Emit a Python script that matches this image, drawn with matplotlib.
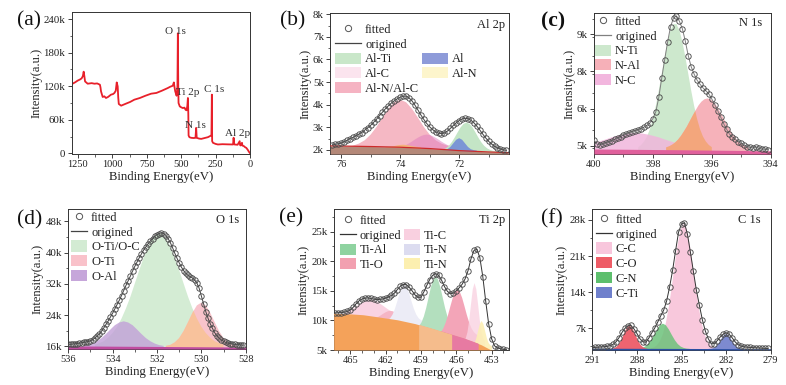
import numpy as np
import matplotlib.pyplot as plt
from matplotlib.lines import Line2D
from matplotlib.patches import Patch
from matplotlib.ticker import FuncFormatter, MultipleLocator

plt.rcParams['font.family'] = ['Liberation Serif', 'DejaVu Serif']
plt.rcParams['axes.linewidth'] = 0.7
plt.rcParams['axes.edgecolor'] = '#333333'

W, H = 786, 385

# ---------------- (a) survey spectrum (intensity in k counts) ----------------
survey_be = [1295, 1289, 1270, 1252, 1235, 1223, 1214, 1208, 1203, 1198, 1179, 1150, 1130, 1110,
             1090, 1086, 1082, 1070, 1058, 1046, 1030, 1010, 995, 985, 975, 968, 961, 957, 953,
             936, 900, 870, 840, 800, 760, 718, 680, 640, 597, 580, 561, 553, 548, 543, 533,
             527, 524, 521, 519, 510, 500, 488, 476, 468, 461, 455, 451, 448, 446, 440, 427,
             410, 396, 391, 387, 370, 354, 330, 306, 290, 283, 280, 277, 275, 269, 250, 233,
             200, 160, 123, 119, 115, 112, 90, 75, 72, 68, 58, 55, 44, 35, 27, 15, 8, 2, 0]
survey_int = [123, 124.5, 127, 130, 132, 134, 138, 146, 138, 128.6, 124.5, 125.5, 124.5, 125,
              122.7, 118, 110.8, 100.8, 102, 99, 101, 104.9, 106, 107.9, 112, 126.8, 119.7, 100, 88.3,
              85.3, 89, 92, 96, 99, 103, 106.7, 108, 112, 116.8, 119, 120.9, 126.8, 118, 110.8, 103,
              120, 214.5, 120, 90, 84, 82.4, 81, 81.8, 78, 77, 85, 99, 70, 32, 29, 27.9,
              27.5, 27.9, 45.6, 27.9, 26.5, 26, 27.5, 29, 31, 32, 33, 105, 22, 19, 17, 16,
              16.5, 16.2, 16, 28, 16.5, 16, 15.5, 21.9, 15, 14.2, 19, 14, 13, 11, 10, 6, 3, 1.2, 0.5]
survey_names = ['O 1s', 'Ti 2p', 'C 1s', 'N 1s', 'Al 2p']
survey_name_be = [542, 455, 258, 393, 91]
survey_name_int = [217, 108, 114, 50, 36]

# ---------------- (b) Al 2p ----------------
b_be = np.linspace(76.3, 70.4, 60)
b_fit = [2.22, 2.25, 2.27, 2.30, 2.36, 2.42, 2.50, 2.55, 2.62, 2.70,
         2.77, 2.88, 2.98, 3.09, 3.22, 3.36, 3.52, 3.67, 3.82, 3.95,
         4.07, 4.17, 4.26, 4.33, 4.37, 4.38, 4.30, 4.17, 3.98, 3.77,
         3.55, 3.35, 3.17, 3.02, 2.90, 2.80, 2.74, 2.72, 2.75, 2.83,
         2.95, 3.08, 3.20, 3.30, 3.37, 3.40, 3.38, 3.31, 3.20, 3.05,
         2.88, 2.70, 2.53, 2.38, 2.26, 2.16, 2.09, 2.04, 2.00, 1.98]
b_alnc_be = np.linspace(76.0, 72.2, 20)
b_alnc = [2.13, 2.15, 2.19, 2.28, 2.43, 2.68, 3.02, 3.43, 3.82, 4.11,
          4.22, 4.11, 3.82, 3.43, 3.02, 2.68, 2.43, 2.28, 2.19, 2.15]
b_alc_be = np.linspace(74.2, 72.0, 23)
b_alc = [2.08, 2.10, 2.13, 2.17, 2.22, 2.29, 2.37, 2.46, 2.54, 2.61, 2.66, 2.68,
         2.66, 2.61, 2.54, 2.46, 2.37, 2.29, 2.22, 2.17, 2.13, 2.10, 2.08]
b_al_be = np.linspace(72.6, 71.4, 13)
b_al = [1.97, 1.99, 2.03, 2.13, 2.29, 2.45, 2.52, 2.45, 2.29, 2.13, 2.03, 1.99, 1.97]
b_alti_be = np.linspace(72.75, 70.55, 23)
b_alti = [1.94, 1.96, 2.00, 2.07, 2.18, 2.34, 2.55, 2.78, 3.00, 3.15, 3.21, 3.15,
          3.00, 2.78, 2.55, 2.34, 2.18, 2.07, 2.00, 1.96, 1.94, 1.93, 1.92]
b_aln_be = np.linspace(74.5, 73.3, 13)
b_aln = [2.12, 2.13, 2.15, 2.17, 2.20, 2.22, 2.23, 2.22, 2.20, 2.17, 2.15, 2.13, 2.12]
b_bg_be = [76.37, 75.0, 74.0, 73.0, 72.0, 71.0, 70.32]
b_bg = [2.18, 2.15, 2.12, 2.06, 1.97, 1.91, 1.88]

# ---------------- (c) N 1s ----------------
c_be = np.linspace(400.0, 394.1, 60)
c_fit = [5.22, 5.05, 5.03, 5.05, 5.10, 5.13, 5.17, 5.24, 5.28, 5.33,
         5.40, 5.44, 5.48, 5.53, 5.56, 5.59, 5.64, 5.70, 5.76, 5.86,
         6.02, 6.28, 6.82, 7.55, 8.25, 8.92, 9.50, 9.82, 9.90, 9.70,
         9.42, 8.95, 8.40, 7.98, 7.70, 7.47, 7.32, 7.18, 7.07, 6.95,
         6.76, 6.55, 6.32, 6.08, 5.83, 5.62, 5.43, 5.32, 5.23, 5.15,
         5.08, 5.01, 4.96, 4.93, 4.91, 4.95, 4.89, 4.87, 4.86, 4.85]
c_nti_be = np.linspace(398.5, 396.0, 26)
c_nti = [4.94, 5.02, 5.15, 5.34, 5.62, 6.01, 6.50, 7.08, 7.72, 8.36, 8.93, 9.36, 9.59,
         9.59, 9.36, 8.93, 8.36, 7.72, 7.08, 6.50, 6.01, 5.62, 5.34, 5.15, 5.02, 4.94]
c_nal_be = np.linspace(397.55, 394.75, 29)
c_nal = [4.93, 4.97, 5.03, 5.11, 5.22, 5.36, 5.53, 5.71, 5.92, 6.13, 6.33, 6.52, 6.66, 6.75, 6.78,
         6.75, 6.66, 6.52, 6.33, 6.13, 5.92, 5.71, 5.53, 5.36, 5.22, 5.11, 5.03, 4.97, 4.93]
c_nc_be = np.linspace(400.0, 396.8, 17)
c_nc = [5.09, 5.16, 5.23, 5.31, 5.37, 5.42, 5.46, 5.47, 5.46, 5.42, 5.37, 5.31, 5.23, 5.16, 5.09, 5.03, 4.98]
c_bg_be = [400.0, 397.0, 394.0]
c_bg = [4.87, 4.84, 4.80]

# ---------------- (d) O 1s ----------------
d_be = np.linspace(536.0, 528.1, 80)
d_fit = [16.5, 16.5, 16.6, 16.6, 16.7, 16.8, 16.9, 17.0, 17.1, 17.2,
         17.4, 17.7, 18.1, 18.6, 19.2, 19.9, 20.7, 21.6, 22.5, 23.5,
         24.5, 25.6, 26.7, 27.8, 29.0, 30.3, 31.6, 32.8, 34.0, 35.3,
         36.5, 37.6, 38.7, 39.7, 40.7, 41.5, 42.3, 43.0, 43.6, 44.2,
         44.6, 44.9, 45.1, 44.9, 44.4, 43.6, 42.6, 41.3, 39.9, 38.6,
         37.4, 36.3, 35.4, 34.7, 34.2, 33.8, 33.5, 33.0, 32.2, 30.9,
         28.9, 26.9, 24.9, 23.2, 21.8, 20.6, 19.5, 18.7, 18.1, 17.6,
         17.3, 17.0, 16.8, 16.7, 16.6, 16.5, 16.4, 16.4, 16.3, 16.3]
d_otioc_be = np.linspace(534.8, 529.0, 30)
d_otioc = [16.4, 16.8, 17.3, 18.2, 19.4, 21.0, 23.1, 25.7, 28.7, 32.1, 35.5, 38.8, 41.6, 43.7, 44.8,
           44.8, 43.7, 41.6, 38.8, 35.5, 32.1, 28.7, 25.7, 23.1, 21.0, 19.4, 18.2, 17.3, 16.8, 16.4]
d_oti_be = np.linspace(531.6, 528.4, 17)
d_oti = [16.1, 16.35, 17.0, 18.1, 19.9, 22.2, 24.6, 26.5, 27.2, 26.5, 24.6, 22.2, 19.9, 18.1, 17.0, 16.35, 16.1]
d_oal_be = np.linspace(535.3, 531.7, 19)
d_oal = [16.1, 16.3, 16.7, 17.3, 18.1, 19.15, 20.3, 21.4, 22.1, 22.4,
         22.1, 21.4, 20.3, 19.15, 18.1, 17.3, 16.7, 16.3, 16.1]
d_bg_be = [536.0, 532.0, 528.0]
d_bg = [16.1, 15.95, 15.8]

# ---------------- (e) Ti 2p ----------------
e_be = np.linspace(466.25, 451.75, 59)
e_fit = [11.25, 11.3, 11.3, 11.4, 11.5, 11.75, 12.2, 12.8, 13.3, 13.6,
         13.75, 13.8, 13.7, 13.6, 13.5, 13.55, 13.6, 13.75, 13.95, 14.2,
         14.6, 15.2, 15.75, 16.05, 16.05, 15.6, 15.0, 14.3, 13.9, 13.9,
         14.8, 15.9, 16.9, 17.6, 17.9, 17.6, 16.8, 15.7, 14.9, 14.5,
         14.6, 15.0, 15.5, 16.1, 17.0, 18.4, 20.4, 21.8, 22.0, 20.6,
         17.4, 13.2, 9.4, 6.9, 5.7, 5.35, 5.2, 5.1, 5.05]
e_tic1_be = np.linspace(466.0, 460.6, 19)
e_tic1 = [10.94, 11.05, 11.24, 11.52, 11.87, 12.30, 12.74, 13.13, 13.40, 13.5,
          13.40, 13.13, 12.74, 12.30, 11.87, 11.52, 11.24, 11.05, 10.94]
e_tic2_be = np.linspace(455.35, 453.55, 13)
e_tic2 = [6.49, 6.93, 8.0, 9.99, 12.72, 15.25, 16.3, 15.25, 12.72, 9.99, 8.0, 6.93, 6.49]
e_tin1_be = np.linspace(462.0, 458.8, 17)
e_tin1 = [9.89, 10.05, 10.38, 11.0, 11.97, 13.23, 14.57, 15.60, 16.0,
          15.60, 14.57, 13.23, 11.97, 11.0, 10.38, 10.05, 9.89]
e_tin2_be = np.linspace(454.75, 452.95, 13)
e_tin2 = [5.64, 5.78, 6.16, 6.97, 8.18, 9.38, 9.9, 9.38, 8.18, 6.97, 6.16, 5.78, 5.64]
e_tial_be = np.linspace(459.15, 456.35, 15)
e_tial = [9.06, 9.66, 10.66, 12.1, 13.85, 15.6, 16.91, 17.4, 16.91, 15.6, 13.85, 12.1, 10.66, 9.66, 9.06]
e_tio1_be = np.linspace(457.7, 454.1, 19)
e_tio1 = [7.45, 7.64, 8.01, 8.64, 9.61, 10.89, 12.37, 13.79, 14.82, 15.2,
          14.82, 13.79, 12.37, 10.89, 9.61, 8.64, 8.01, 7.64, 7.45]
e_tio2_be = np.linspace(463.0, 460.2, 15)
e_tio2 = [10.28, 10.42, 10.61, 10.85, 11.12, 11.36, 11.54, 11.6, 11.54, 11.36, 11.12, 10.85, 10.61, 10.42, 10.28]
e_bg_be = [466.4, 465.0, 463.9, 462.5, 461.0, 459.5, 458.2, 456.8, 455.4, 454.5, 453.9, 453.1, 452.5, 451.5]
e_bg = [11.2, 11.1, 10.95, 10.55, 10.1, 9.45, 8.7, 7.85, 7.0, 6.35, 5.9, 5.06, 5.0, 5.0]

# ---------------- (f) C 1s ----------------
f_be = np.linspace(291.0, 279.2, 60)
f_fit = [3.25, 3.3, 3.35, 3.4, 3.43, 3.5, 3.65, 3.9, 4.4, 5.2,
         6.2, 7.0, 7.5, 7.55, 6.9, 6.0, 5.0, 4.4, 4.3, 5.1,
         6.1, 7.05, 8.2, 9.4, 10.5, 12.3, 15.0, 18.2, 22.0, 25.6,
         27.2, 27.4, 25.2, 21.7, 18.0, 14.4, 11.5, 8.7, 6.5, 5.0,
         4.0, 4.05, 4.6, 5.3, 5.85, 6.15, 5.85, 5.2, 4.4, 3.85,
         3.55, 3.42, 3.35, 3.3, 3.25, 3.22, 3.2, 3.15, 3.12, 3.1]
f_cc_be = np.linspace(287.05, 282.65, 23)
f_cc = [3.13, 3.32, 3.73, 4.51, 5.90, 8.08, 11.2, 15.1, 19.4, 23.35, 26.2, 27.2,
        26.2, 23.35, 19.4, 15.1, 11.2, 8.08, 5.90, 4.51, 3.73, 3.32, 3.13]
f_co_be = np.linspace(289.7, 287.3, 17)
f_co = [3.05, 3.15, 3.37, 3.80, 4.49, 5.42, 6.41, 7.20, 7.5, 7.20, 6.41, 5.42, 4.49, 3.80, 3.37, 3.15, 3.05]
f_cn_be = np.linspace(288.05, 284.45, 19)
f_cn = [3.02, 3.07, 3.20, 3.46, 3.95, 4.72, 5.71, 6.77, 7.59, 7.9,
        7.59, 6.77, 5.71, 4.72, 3.95, 3.46, 3.20, 3.07, 3.02]
f_cti_be = np.linspace(283.2, 280.8, 17)
f_cti = [3.01, 3.04, 3.13, 3.34, 3.73, 4.33, 5.05, 5.66, 5.9, 5.66, 5.05, 4.33, 3.73, 3.34, 3.13, 3.04, 3.01]
f_bg_be = [291.0, 285.0, 279.0]
f_bg = [3.15, 3.1, 3.05]


fig = plt.figure(figsize=(W / 100, H / 100), dpi=100)


def add_ax(l, t, r, b):
    return fig.add_axes([l / W, 1 - b / H, (r - l) / W, (b - t) / H])


def kfmt(v, pos):
    return '0' if abs(v) < 1e-9 else f'{v:.0f}k'


def style(ax, xlim, ylim, xticks, yticks, xminor, yminor):
    ax.set_xlim(*xlim)
    ax.set_ylim(*ylim)
    ax.set_xticks(xticks)
    ax.set_yticks(yticks)
    ax.xaxis.set_minor_locator(MultipleLocator(xminor))
    ax.yaxis.set_minor_locator(MultipleLocator(yminor))
    ax.yaxis.set_major_formatter(FuncFormatter(kfmt))
    ax.tick_params(which='major', direction='out', length=3, width=0.6, pad=1.5, colors='#222222')
    ax.tick_params(which='minor', direction='out', length=1.8, width=0.5, colors='#222222')
    ax.tick_params(axis='x', labelsize=7.5)
    ax.tick_params(axis='y', labelsize=7.8)
    ax.set_xlabel('Binding Energy(eV)', fontsize=9.2, labelpad=1, color='#222222')
    ax.set_ylabel('Intensity(a.u.)', fontsize=9, labelpad=1, color='#222222')


def area(ax, x, y, color, z, alpha=1.0, clip=None):
    lo = ax.get_ylim()[0]
    p = ax.fill_between(x, lo, y, facecolor=color, edgecolor='none', alpha=alpha, zorder=z)
    if clip is not None:
        p.set_clip_path(clip.get_paths()[0], ax.transData)
    return p


def scan(ax, x, y, line_color):
    ax.plot(x, y, color=line_color, lw=0.7, zorder=6)
    ax.plot(x, y, ls='none', marker='o', mfc='none', mec='#4d4d4d', ms=3.9, mew=0.65, zorder=7)


def legend(ax, entries, left, top, hl, ncol=1):
    handles, labels = [], []
    for kind, color, label in entries:
        if kind == 'o':
            h = Line2D([], [], ls='none', marker='o', mfc='none', mec='#555555', ms=4.5, mew=0.7)
        elif kind == 'line':
            h = Line2D([], [], color=color, lw=0.9)
        elif kind == 'patch':
            h = Patch(facecolor=color, edgecolor='none')
        else:
            h = Patch(facecolor='none', edgecolor='none')
        handles.append(h)
        labels.append(label)
    ax.legend(handles, labels, ncol=ncol, loc='upper left',
              bbox_to_anchor=(left / W, 1 - top / H), bbox_transform=fig.transFigure,
              frameon=False, borderpad=0, borderaxespad=0, handlelength=hl, handleheight=1.0,
              handletextpad=0.3, labelspacing=0.15, columnspacing=0.2, fontsize=9,
              labelcolor='#222222')


def tag(ax, xf, yf, text):
    ax.text(xf, yf, text, transform=ax.transAxes, ha='right', va='center', fontsize=9, color='#222222')


# (a)
ax = add_ax(71.7, 12.3, 250, 154)
style(ax, (1295, 0), (-1, 252), [1250, 1000, 750, 500, 250, 0], [0, 60, 120, 180, 240], 125, 30)
ax.plot(survey_be, survey_int, color='#e8202a', lw=1.3)
for name, be, it in zip(survey_names, survey_name_be, survey_name_int):
    ax.text(be, it, name, ha='center', va='center', fontsize=8, color='#333333')

# (b)
ax = add_ax(330.3, 13.3, 508.7, 154)
style(ax, (76.37, 70.32), (1.82, 8.04), [76, 74, 72], [2, 3, 4, 5, 6, 7, 8], 1, 0.5)
area(ax, b_alnc_be, b_alnc, '#f5b8c4', 2)
area(ax, b_alc_be, b_alc, '#e07bbf', 2.2, alpha=0.5)
area(ax, b_aln_be, b_aln, '#f3b27a', 2.3)
area(ax, b_alti_be, b_alti, '#c4e5c6', 2.4)
area(ax, b_al_be, b_al, '#6f88d8', 2.5, alpha=0.85)
ax.fill_between(b_bg_be, 1.82, b_bg, color='#b48878', lw=0, zorder=5)
ax.plot(b_bg_be, b_bg, color='#cc2a2a', lw=0.9, zorder=5.5)
scan(ax, b_be, b_fit, '#444444')
legend(ax, [('o', '', 'fitted'), ('line', '#444444', 'origined'),
            ('patch', '#c9e7c9', 'Al-Ti'), ('patch', '#fbe4ee', 'Al-C'), ('patch', '#f5b3c2', 'Al-N/Al-C'),
            ('blank', '', ''), ('blank', '', ''),
            ('patch', '#8e9bd9', 'Al'), ('patch', '#fdf5cc', 'Al-N'), ('blank', '', '')],
       335, 23, 2.1, ncol=2)
tag(ax, 0.98, 0.917, 'Al 2p')

# (c)
ax = add_ax(594, 13.3, 770.7, 154)
style(ax, (400, 394), (4.68, 10.0), [400, 398, 396, 394], [5.0, 6.4, 7.8, 9.2], 1, 0.7)
nti = area(ax, c_nti_be, c_nti, '#cde8cd', 2)
area(ax, c_nc_be, c_nc, '#f0b6dc', 2.2, alpha=0.85)
area(ax, c_nal_be, c_nal, '#f6b2ba', 2.4)
area(ax, c_nal_be, c_nal, '#f3a67c', 2.6, clip=nti)
ax.fill_between(c_bg_be, 4.68, c_bg, color='#e0609c', lw=0, zorder=5)
scan(ax, c_be, c_fit, '#808080')
legend(ax, [('o', '', 'fitted'), ('line', '#808080', 'origined'),
            ('patch', '#cde8cd', 'N-Ti'), ('patch', '#f6b0b8', 'N-Al'), ('patch', '#f2b6de', 'N-C')],
       595, 15, 1.3)
tag(ax, 0.951, 0.929, 'N 1s')

# (d)
ax = add_ax(68.3, 209, 245.7, 349)
style(ax, (536, 528), (15.3, 51.2), [536, 534, 532, 530, 528], [16, 24, 32, 40, 48], 1, 4)
otioc = area(ax, d_otioc_be, d_otioc, '#d4ecd4', 2)
area(ax, d_oti_be, d_oti, '#f8c3cb', 2.2)
area(ax, d_oti_be, d_oti, '#f8c29c', 2.4, clip=otioc)
area(ax, d_oal_be, d_oal, '#c2a0d8', 2.6, alpha=0.8)
ax.fill_between(d_bg_be, 15.3, d_bg, color='#c04ca0', lw=0, zorder=5)
scan(ax, d_be, d_fit, '#444444')
legend(ax, [('o', '', 'fitted'), ('line', '#444444', 'origined'),
            ('patch', '#d3ebd3', 'O-Ti/O-C'), ('patch', '#f9c2ca', 'O-Ti'), ('patch', '#c6a6da', 'O-Al')],
       71, 211, 1.3)
tag(ax, 0.962, 0.921, 'O 1s')

# (e)
ax = add_ax(333.7, 209, 509.3, 350)
style(ax, (466.4, 451.5), (5, 28.8), [465, 462, 459, 456, 453], [5, 10, 15, 20, 25], 1, 2.5)
area(ax, e_tic1_be, e_tic1, '#f9d3e2', 2)
area(ax, e_tio2_be, e_tio2, '#f5b5c5', 2.1)
area(ax, e_tin1_be, e_tin1, '#ececf6', 2.2)
area(ax, e_tial_be, e_tial, '#b3dfbe', 2.3)
area(ax, e_tio1_be, e_tio1, '#f3a5b8', 2.4)
area(ax, e_tic2_be, e_tic2, '#f9d3e2', 2.5, alpha=0.8)
area(ax, e_tin2_be, e_tin2, '#fcefb5', 2.6, alpha=0.9)
orange = ax.fill_between(e_bg_be, 5, e_bg, color='#f4a25a', lw=0, zorder=3)
area(ax, e_tio1_be, e_tio1, '#e77aa2', 3.1, clip=orange)
area(ax, e_tial_be, e_tial, '#f5bc8c', 3.1, clip=orange)
scan(ax, e_be, e_fit, '#333333')
legend(ax, [('o', '', 'fitted'), ('line', '#333333', 'origined'),
            ('patch', '#8fd3a0', 'Ti-Al'), ('patch', '#f2a0b0', 'Ti-O'),
            ('blank', '', ''), ('patch', '#f9d0e0', 'Ti-C'),
            ('patch', '#dcdcf0', 'Ti-N'), ('patch', '#fcefb0', 'Ti-N')],
       340, 214, 1.3, ncol=2)
tag(ax, 0.975, 0.921, 'Ti 2p')

# (f)
ax = add_ax(592.3, 209, 770.7, 350)
style(ax, (291, 279), (2.8, 30.1), [291, 288, 285, 282, 279], [7, 14, 21, 28], 1.5, 3.5)
area(ax, f_cc_be, f_cc, '#f8c8dc', 2)
area(ax, f_cn_be, f_cn, '#6cc27a', 2.2, alpha=0.85)
area(ax, f_co_be, f_co, '#ee6470', 2.4)
area(ax, f_cti_be, f_cti, '#7d8ad0', 2.4)
ax.fill_between(f_bg_be, 2.8, f_bg, color='#2b4fa3', lw=0, zorder=5)
scan(ax, f_be, f_fit, '#333333')
legend(ax, [('o', '', 'fitted'), ('line', '#333333', 'origined'),
            ('patch', '#f8c6dc', 'C-C'), ('patch', '#ee5c66', 'C-O'),
            ('patch', '#5dbf6d', 'C-N'), ('patch', '#6f80cc', 'C-Ti')],
       596, 213, 1.3)
tag(ax, 0.946, 0.921, 'C 1s')

# panel letters
for letter, px, py, weight in [('(a)', 17, 21, 'normal'), ('(b)', 280, 21, 'normal'),
                               ('(c)', 541, 21, 'bold'), ('(d)', 17, 220, 'normal'),
                               ('(e)', 279, 218, 'normal'), ('(f)', 541, 219, 'normal')]:
    fig.text(px / W, 1 - py / H, letter, ha='left', va='center', fontsize=15.5,
             fontweight=weight, color='#111111')

fig.savefig('out.png', dpi=100)
